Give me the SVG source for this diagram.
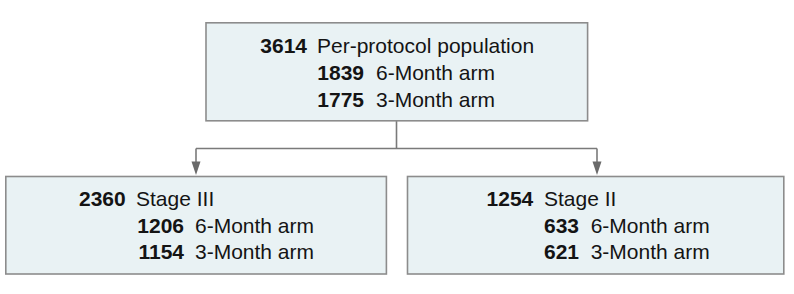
<svg xmlns="http://www.w3.org/2000/svg" width="794" height="294" viewBox="0 0 794 294">
<defs>
<style>
.box{fill:#e9f2f4;stroke:#8c8c8c;stroke-width:1.6}
.t{font-family:"Liberation Sans",Arial,sans-serif;font-size:21px;fill:#141414}
.n{font-weight:bold;text-anchor:end}
.conn{fill:none;stroke:#7a7a7a;stroke-width:1.6}
</style>
<marker id="arr" markerWidth="10" markerHeight="10" refX="5" refY="9" orient="auto" markerUnits="userSpaceOnUse" viewBox="0 0 10 10">
<path d="M0.5,0 L9.5,0 L5,10 Z" fill="#6a6a6a" transform="rotate(-90 5 5)"/>
</marker>
</defs>
<rect width="794" height="294" fill="#ffffff"/>
<g id="connectors">
<path class="conn" d="M396.5,121 V148.5"/>
<path class="conn" d="M196,148.5 H597"/>
<path class="conn" d="M196,148.5 V163"/>
<path class="conn" d="M597,148.5 V163"/>
<path d="M191.5,161.5 L200.5,161.5 L196,175 Z" fill="#6a6a6a"/>
<path d="M592.5,161.5 L601.5,161.5 L597,175 Z" fill="#6a6a6a"/>
</g>
<g id="node-top">
<rect class="box" x="206" y="22.8" width="381.6" height="98"/>
<text class="t n" x="307" y="53">3614</text>
<text class="t" x="317" y="53">Per-protocol population</text>
<text class="t n" x="364" y="80">1839</text>
<text class="t" x="376" y="80">6-Month arm</text>
<text class="t n" x="364" y="106.5">1775</text>
<text class="t" x="376" y="106.5">3-Month arm</text>
</g>
<g id="node-stage3">
<rect class="box" x="5.8" y="176.5" width="380.6" height="97.5"/>
<text class="t n" x="125.7" y="206">2360</text>
<text class="t" x="136" y="206">Stage III</text>
<text class="t n" x="184" y="232.5">1206</text>
<text class="t" x="195" y="232.5">6-Month arm</text>
<text class="t n" x="184" y="259">1154</text>
<text class="t" x="195" y="259">3-Month arm</text>
</g>
<g id="node-stage2">
<rect class="box" x="407.5" y="176.5" width="376.3" height="97.5"/>
<text class="t n" x="533.3" y="206">1254</text>
<text class="t" x="544" y="206">Stage II</text>
<text class="t n" x="579" y="232.5">633</text>
<text class="t" x="590.7" y="232.5">6-Month arm</text>
<text class="t n" x="579" y="259">621</text>
<text class="t" x="590.7" y="259">3-Month arm</text>
</g>
</svg>
